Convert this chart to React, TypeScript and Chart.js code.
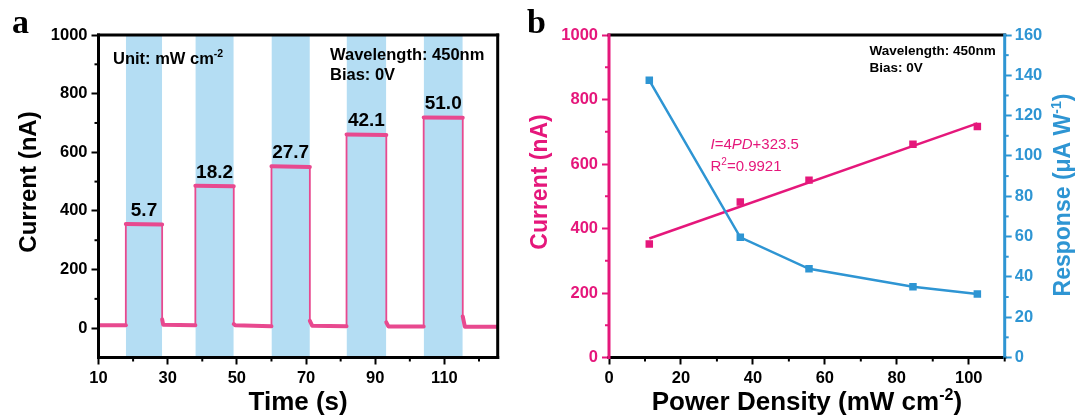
import React, { useEffect, useRef } from 'react';
import { Chart, registerables } from 'chart.js';

Chart.register(...registerables);

const FONT = '"Liberation Sans", Arial, sans-serif';
const SERIF = '"Liberation Serif", "Times New Roman", serif';

// ---------- Panel a data ----------
const timeValues = [10, 17.9, 17.9, 28.4, 28.4, 28.7, 38.0, 38.0, 49.1, 49.1, 49.5, 60.0, 60.0, 71.1, 71.1, 71.8, 81.7, 81.7, 93.2, 93.2, 93.8, 104.0, 104.0, 115.3, 115.3, 115.9, 125.4];
const currentTrace = [10, 10, 355, 354, 30, 12, 10, 486, 484, 14, 10, 7, 552, 550, 25, 8, 7, 661, 659, 20, 6, 6, 719, 718, 40, 5, 5];
const bandStart = [17.9, 38.0, 60.0, 81.7, 104.0];
const bandEnd = [28.4, 49.1, 71.1, 93.2, 115.3];
const bandLabels = ['5.7', '18.2', '27.7', '42.1', '51.0'];
const onLevels = [355, 486, 552, 661, 719];
const xTicksA = [10, 30, 50, 70, 90, 110];
const xMinorA = [20, 40, 60, 80, 100, 120];
const yTicksA = [0, 200, 400, 600, 800, 1000];
const yMinorA = [100, 300, 500, 700, 900];

// ---------- Panel b data ----------
const powerDensity = [11.2, 36.5, 55.6, 84.5, 102.4];
const currentB = [352, 482, 550, 661, 716];
const responsivity = [137.5, 59.6, 44, 35.1, 31.5];
const fitX = [11.2, 102.4];
const fitY = [369, 726];
const xTicksB = [0, 20, 40, 60, 80, 100];
const xMinorB = [10, 30, 50, 70, 90, 110];
const yTicksB = [0, 200, 400, 600, 800, 1000];
const yMinorB = [100, 300, 500, 700, 900];
const y1TicksB = [0, 20, 40, 60, 80, 100, 120, 140, 160];
const y1MinorB = [10, 30, 50, 70, 90, 110, 130, 150];

const PINK_A = '#e8498f';
const PINK_B = '#e5177b';
const BLUE_B = '#2e95d3';
const BAND = '#b4ddf3';

type Part = { t: string; font: string; dy?: number };

function drawRich(ctx: CanvasRenderingContext2D, parts: Part[], x: number, y: number, align: 'left' | 'center') {
  let total = 0;
  const widths = parts.map((p) => {
    ctx.font = p.font;
    const w = ctx.measureText(p.t).width;
    total += w;
    return w;
  });
  let cx = align === 'center' ? x - total / 2 : x;
  ctx.textAlign = 'left';
  ctx.textBaseline = 'alphabetic';
  parts.forEach((p, i) => {
    ctx.font = p.font;
    ctx.fillText(p.t, cx, y + (p.dy || 0));
    cx += widths[i];
  });
}

function drawRotated(ctx: CanvasRenderingContext2D, parts: Part[], x: number, y: number) {
  ctx.save();
  ctx.translate(x, y);
  ctx.rotate(-Math.PI / 2);
  drawRich(ctx, parts, 0, 0, 'center');
  ctx.restore();
}

function minorTicks(ctx: CanvasRenderingContext2D, scale: any, values: number[], side: 'left' | 'right' | 'bottom', color: string) {
  ctx.strokeStyle = color;
  ctx.lineWidth = 2;
  values.forEach((v) => {
    const p = scale.getPixelForValue(v);
    ctx.beginPath();
    if (side === 'bottom') {
      ctx.moveTo(p, scale.top);
      ctx.lineTo(p, scale.top + 4);
    } else if (side === 'left') {
      ctx.moveTo(scale.right, p);
      ctx.lineTo(scale.right - 4, p);
    } else {
      ctx.moveTo(scale.left, p);
      ctx.lineTo(scale.left + 4, p);
    }
    ctx.stroke();
  });
}

function line(ctx: CanvasRenderingContext2D, x1: number, y1: number, x2: number, y2: number, color: string, w: number) {
  ctx.strokeStyle = color;
  ctx.lineWidth = w;
  ctx.beginPath();
  ctx.moveTo(x1, y1);
  ctx.lineTo(x2, y2);
  ctx.stroke();
}

const tickFont = { family: FONT, size: 16.5, weight: 'bold' as const };
const plainLabel = (v: any) => String(v);

const panelAPlugin = {
  id: 'panelA',
  afterDraw(chart: any) {
    const { ctx, chartArea: ca, scales } = chart;
    const x = scales.x;
    const y = scales.y;
    ctx.save();
    ctx.lineCap = 'square';
    line(ctx, ca.left, ca.top, ca.right, ca.top, '#000', 3);
    line(ctx, ca.right, ca.top, ca.right, ca.bottom, '#000', 3);
    line(ctx, ca.left, ca.bottom, ca.right, ca.bottom, '#000', 3);
    line(ctx, ca.left, ca.top, ca.left, ca.bottom, '#000', 3);
    ctx.lineCap = 'butt';
    minorTicks(ctx, x, xMinorA, 'bottom', '#000');
    minorTicks(ctx, y, yMinorA, 'left', '#000');

    ctx.fillStyle = '#000';
    ctx.font = `bold 19px ${FONT}`;
    ctx.textAlign = 'center';
    ctx.textBaseline = 'alphabetic';
    bandLabels.forEach((t, i) => {
      const cx = x.getPixelForValue((bandStart[i] + bandEnd[i]) / 2);
      const cy = y.getPixelForValue(onLevels[i]) - 8;
      ctx.fillText(t, cx, cy);
    });

    const b16 = `bold 16.5px ${FONT}`;
    drawRich(ctx, [{ t: 'Unit: mW cm', font: b16 }, { t: '-2', font: `bold 10.5px ${FONT}`, dy: -7 }], 113, 64, 'left');
    drawRich(ctx, [{ t: 'Wavelength: 450nm', font: b16 }], 330, 60, 'left');
    drawRich(ctx, [{ t: 'Bias: 0V', font: b16 }], 330, 80, 'left');

    const b26 = `bold 26px ${FONT}`;
    drawRich(ctx, [{ t: 'Time (s)', font: b26 }], (ca.left + ca.right) / 2, 410, 'center');
    drawRotated(ctx, [{ t: 'Current (nA)', font: `bold 24px ${FONT}` }], 35.5, 182);

    drawRich(ctx, [{ t: 'a', font: `bold 34px ${SERIF}` }], 12, 33, 'left');
    ctx.restore();
  },
};

const panelBPlugin = {
  id: 'panelB',
  afterDraw(chart: any) {
    const { ctx, chartArea: ca, scales } = chart;
    const x = scales.x;
    const y = scales.y;
    const y1 = scales.y1;
    ctx.save();
    ctx.lineCap = 'square';
    line(ctx, ca.left, ca.top, ca.right, ca.top, '#000', 3);
    line(ctx, ca.left, ca.bottom, ca.right, ca.bottom, '#000', 3);
    line(ctx, ca.left, ca.top, ca.left, ca.bottom, PINK_B, 3);
    line(ctx, ca.right, ca.top, ca.right, ca.bottom, BLUE_B, 3);
    ctx.lineCap = 'butt';
    minorTicks(ctx, x, xMinorB, 'bottom', '#000');
    minorTicks(ctx, y, yMinorB, 'left', PINK_B);
    minorTicks(ctx, y1, y1MinorB, 'right', BLUE_B);

    ctx.fillStyle = '#000';
    const b13 = `bold 13.5px ${FONT}`;
    drawRich(ctx, [{ t: 'Wavelength: 450nm', font: b13 }], 869.5, 55, 'left');
    drawRich(ctx, [{ t: 'Bias: 0V', font: b13 }], 869.5, 72, 'left');

    ctx.fillStyle = PINK_B;
    const r15 = `15px ${FONT}`;
    const i15 = `italic 15px ${FONT}`;
    drawRich(ctx, [{ t: 'I', font: i15 }, { t: '=4', font: r15 }, { t: 'PD', font: i15 }, { t: '+323.5', font: r15 }], 710.5, 149, 'left');
    drawRich(ctx, [{ t: 'R', font: r15 }, { t: '2', font: `10px ${FONT}`, dy: -6 }, { t: '=0.9921', font: r15 }], 710.5, 170.5, 'left');

    ctx.fillStyle = '#000';
    const b26 = `bold 26px ${FONT}`;
    drawRich(ctx, [{ t: 'Power Density (mW cm', font: b26 }, { t: '-2', font: `bold 16px ${FONT}`, dy: -10 }, { t: ')', font: b26 }], (ca.left + ca.right) / 2, 410, 'center');

    ctx.fillStyle = PINK_B;
    drawRotated(ctx, [{ t: 'Current (nA)', font: `bold 23px ${FONT}` }], 547, 182);
    ctx.fillStyle = BLUE_B;
    drawRotated(ctx, [{ t: 'Response (μA W', font: `bold 23px ${FONT}` }, { t: '-1', font: `bold 14px ${FONT}`, dy: -9 }, { t: ')', font: `bold 23px ${FONT}` }], 1069.5, 195);

    ctx.fillStyle = '#000';
    drawRich(ctx, [{ t: 'b', font: `bold 34px ${SERIF}` }], 527, 33, 'left');
    ctx.restore();
  },
};

function setTicks(values: number[]) {
  return (s: any) => {
    s.ticks = values.map((v) => ({ value: v }));
  };
}

function tickGrid(color: string) {
  return { display: true, drawOnChartArea: false, drawTicks: true, tickLength: 7, tickWidth: 2, tickColor: color };
}

export default function App() {
  const refA = useRef<HTMLCanvasElement>(null);
  const refB = useRef<HTMLCanvasElement>(null);

  useEffect(() => {
    const traceData = timeValues.map((t, i) => ({ x: t, y: currentTrace[i] }));
    const bandSets = bandStart.map((s, i) => ({
      label: `band${i}`,
      data: [
        { x: s, y: 1000 },
        { x: bandEnd[i], y: 1000 },
      ],
      borderWidth: 0,
      pointRadius: 0,
      backgroundColor: BAND,
      borderColor: BAND,
      fill: 'start',
    }));

    const chartA = new Chart(refA.current as HTMLCanvasElement, {
      type: 'line',
      data: {
        datasets: [
          {
            label: 'Current',
            data: traceData,
            borderColor: PINK_A,
            backgroundColor: PINK_A,
            borderWidth: 2,
            pointRadius: 0,
            borderCapStyle: 'round',
            borderJoinStyle: 'round',
            fill: false,
            segment: {
              borderWidth: (c: any) => (Math.abs(c.p0.parsed.x - c.p1.parsed.x) < 0.01 ? 1.8 : 4),
            },
          } as any,
          ...(bandSets as any[]),
        ],
      },
      options: {
        responsive: false,
        animation: false,
        layout: { padding: { left: 0, right: 1078 - 497.7, top: 35, bottom: 0 } },
        plugins: { legend: { display: false }, tooltip: { enabled: false } },
        scales: {
          x: {
            type: 'linear',
            min: 10,
            max: 125.4,
            afterBuildTicks: setTicks(xTicksA),
            afterFit: (s: any) => {
              s.height = 419 - 357.5;
            },
            grid: tickGrid('#000'),
            border: { display: false },
            ticks: { font: tickFont, color: '#000', padding: 4, autoSkip: false, maxRotation: 0, callback: plainLabel },
          },
          y: {
            type: 'linear',
            min: -100,
            max: 1000,
            afterBuildTicks: setTicks(yTicksA),
            afterFit: (s: any) => {
              s.width = 98.5;
            },
            grid: tickGrid('#000'),
            border: { display: false },
            ticks: { font: tickFont, color: '#000', padding: 4, autoSkip: false, callback: plainLabel },
          },
        },
      } as any,
      plugins: [panelAPlugin],
    });

    const chartB = new Chart(refB.current as HTMLCanvasElement, {
      type: 'line',
      data: {
        datasets: [
          {
            label: 'Response',
            data: powerDensity.map((p, i) => ({ x: p, y: responsivity[i] })),
            yAxisID: 'y1',
            borderColor: BLUE_B,
            backgroundColor: BLUE_B,
            borderWidth: 2.5,
            pointStyle: 'rect',
            pointRadius: 5.3,
            pointBorderWidth: 0,
            pointBackgroundColor: BLUE_B,
            fill: false,
          },
          {
            label: 'Current',
            data: powerDensity.map((p, i) => ({ x: p, y: currentB[i] })),
            yAxisID: 'y',
            showLine: false,
            borderColor: PINK_B,
            backgroundColor: PINK_B,
            pointStyle: 'rect',
            pointRadius: 5.3,
            pointBorderWidth: 0,
            pointBackgroundColor: PINK_B,
            fill: false,
          },
          {
            label: 'Fit',
            data: fitX.map((p, i) => ({ x: p, y: fitY[i] })),
            yAxisID: 'y',
            borderColor: PINK_B,
            borderWidth: 2.5,
            pointRadius: 0,
            fill: false,
          },
        ],
      },
      options: {
        responsive: false,
        animation: false,
        layout: { padding: { left: 0, right: 0, top: 35, bottom: 0 } },
        plugins: { legend: { display: false }, tooltip: { enabled: false } },
        scales: {
          x: {
            type: 'linear',
            min: 0,
            max: 110,
            afterBuildTicks: setTicks(xTicksB),
            afterFit: (s: any) => {
              s.height = 419 - 357.5;
            },
            grid: tickGrid('#000'),
            border: { display: false },
            ticks: { font: tickFont, color: '#000', padding: 4, autoSkip: false, maxRotation: 0, callback: plainLabel },
          },
          y: {
            type: 'linear',
            position: 'left',
            min: 0,
            max: 1000,
            afterBuildTicks: setTicks(yTicksB),
            afterFit: (s: any) => {
              s.width = 609;
            },
            grid: tickGrid(PINK_B),
            border: { display: false },
            ticks: { font: tickFont, color: PINK_B, padding: 4, autoSkip: false, callback: plainLabel },
          },
          y1: {
            type: 'linear',
            position: 'right',
            min: 0,
            max: 160,
            afterBuildTicks: setTicks(y1TicksB),
            afterFit: (s: any) => {
              s.width = 1078 - 1004.7;
            },
            grid: tickGrid(BLUE_B),
            border: { display: false },
            ticks: { font: tickFont, color: BLUE_B, padding: 3, autoSkip: false, callback: plainLabel },
          },
        },
      } as any,
      plugins: [panelBPlugin],
    });

    return () => {
      chartA.destroy();
      chartB.destroy();
    };
  }, []);

  return (
    <div style={{ position: 'absolute', left: 0, top: 0, width: 1078, height: 419, background: '#fff', overflow: 'hidden' }}>
      <canvas ref={refA} width={1078} height={419} style={{ position: 'absolute', left: 0, top: 0 }} />
      <canvas ref={refB} width={1078} height={419} style={{ position: 'absolute', left: 0, top: 0 }} />
    </div>
  );
}
